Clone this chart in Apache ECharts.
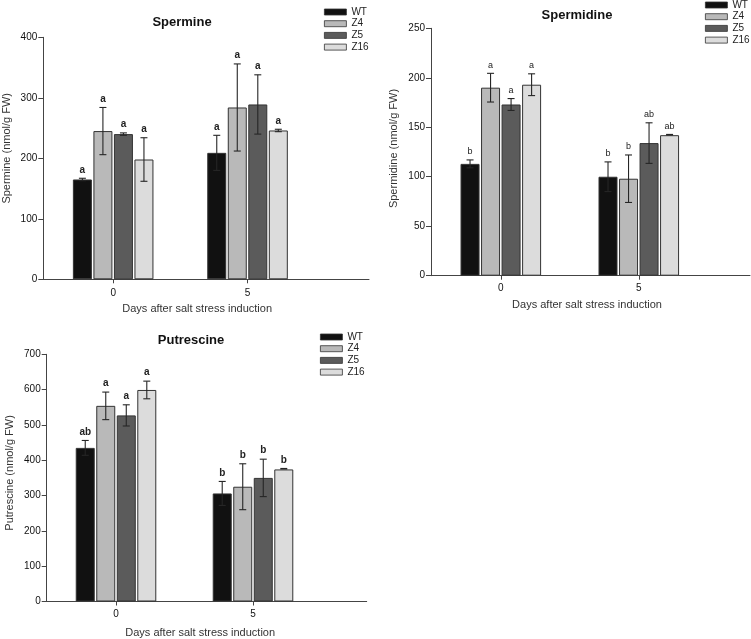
<!DOCTYPE html>
<html><head><meta charset="utf-8">
<script src="https://cdn.jsdelivr.net/npm/echarts@6/dist/echarts.min.js"></script>
<style>html,body{margin:0;padding:0;background:#fff}#c{width:751px;height:639px}</style>
</head><body><div id="c"></div>
<script>
// ---------- data ----------
const days = [0, 5];
const genotypes = ['WT', 'Z4', 'Z5', 'Z16'];

// rows: WT, Z4, Z5, Z16 ; columns: day 0, day 5
const spermineMean = [[165, 209], [245, 284], [240, 289], [198, 246]];
const spermineErr = [[2, 29], [39, 72], [2, 49], [36, 2]];
const spermineLetters = [['a', 'a'], ['a', 'a'], ['a', 'a'], ['a', 'a']];

const spermidineMean = [[113, 100], [190, 98], [173, 134], [193, 142]];
const spermidineErr = [[4, 15], [14.5, 24], [6, 20.5], [11, 0.5]];
const spermidineLetters = [['b', 'b'], ['a', 'b'], ['a', 'ab'], ['a', 'ab']];

const putrescineMean = [[435, 306], [554, 325], [527, 350], [599, 374]];
const putrescineErr = [[21, 34], [39, 65], [30, 53], [25, 2]];
const putrescineLetters = [['ab', 'b'], ['a', 'b'], ['a', 'b'], ['a', 'b']];

const xTickValues = [0, 5];
const xAxisTitle = 'Days after salt stress induction';

// ---------- styling / layout ----------
const FONT = '"Liberation Sans", Arial, Helvetica, sans-serif';
const colors = ['#111111', '#b9b9b9', '#5b5b5b', '#dcdcdc'];
const BAR_W = 19, BAR_GAP_PCT = 8;
const BAR_PITCH = BAR_W * (1 + BAR_GAP_PCT / 100);

const panels = [
  { title: 'Spermine', yName: 'Spermine (nmol/g FW)', mean: spermineMean, err: spermineErr, letters: spermineLetters,
    grid: { left: 43.3, top: 37.3, width: 325.7, height: 242 }, xMin: -2.6, xMax: 9.52, yMax: 400, yInt: 100,
    titlePos: { x: 182, y: 16 }, legendPos: { left: 324, top: 6.5 }, letterBold: true, letterSize: 10,
    xLabelMargin: 9, xNameGap: 24.5, xNameShift: 18, yNameGap: 31, yNameShift: 20 },
  { title: 'Spermidine', yName: 'Spermidine (nmol/g FW)', mean: spermidineMean, err: spermidineErr, letters: spermidineLetters,
    grid: { left: 431, top: 28.3, width: 319, height: 247.4 }, xMin: -2.53, xMax: 9.03, yMax: 250, yInt: 50,
    titlePos: { x: 577, y: 9 }, legendPos: { left: 705, top: -0.5 }, letterBold: false, letterSize: 9,
    xLabelMargin: 8, xNameGap: 23.5, xNameShift: 7, yNameGap: 32, yNameShift: 7 },
  { title: 'Putrescine', yName: 'Putrescine (nmol/g FW)', mean: putrescineMean, err: putrescineErr, letters: putrescineLetters,
    grid: { left: 46.7, top: 354.3, width: 320, height: 247.7 }, xMin: -2.53, xMax: 9.15, yMax: 700, yInt: 100,
    titlePos: { x: 191, y: 334 }, legendPos: { left: 320, top: 331.5 }, letterBold: true, letterSize: 10,
    xLabelMargin: 8, xNameGap: 25.5, xNameShift: 13, yNameGap: 31.5, yNameShift: 10 }
];

const grid = [], xAxis = [], yAxis = [], series = [], title = [], legend = [];

function errRenderer(p, gi) {
  return function (params, api) {
    const x = api.value(0), m = api.value(1), e = api.value(2);
    const off = (gi - 1.5) * BAR_PITCH;
    const top = api.coord([x, m + e]);
    const bot = api.coord([x, m - e]);
    const cx = top[0] + off;
    const children = [];
    const ls = { stroke: '#262626', lineWidth: 1.1 };
    if (Math.abs(bot[1] - top[1]) > 1.5) {
      children.push({ type: 'line', shape: { x1: cx, y1: top[1], x2: cx, y2: bot[1] }, style: ls });
      children.push({ type: 'line', shape: { x1: cx - 3.5, y1: top[1], x2: cx + 3.5, y2: top[1] }, style: ls });
      children.push({ type: 'line', shape: { x1: cx - 3.5, y1: bot[1], x2: cx + 3.5, y2: bot[1] }, style: ls });
    } else {
      children.push({ type: 'line', shape: { x1: cx - 3.5, y1: top[1], x2: cx + 3.5, y2: top[1] }, style: { stroke: '#262626', lineWidth: 1.6 } });
    }
    children.push({
      type: 'text',
      style: {
        text: p.letters[gi][params.dataIndex], x: cx, y: top[1] - 3.5,
        align: 'center', verticalAlign: 'bottom',
        font: (p.letterBold ? 'bold ' : '') + p.letterSize + 'px ' + FONT, fill: '#222'
      }
    });
    return { type: 'group', children: children };
  };
}

panels.forEach(function (p, i) {
  grid.push(Object.assign({ containLabel: false }, p.grid));
  xAxis.push({
    type: 'value', gridIndex: i, min: p.xMin, max: p.xMax,
    name: xAxisTitle, nameLocation: 'middle', nameGap: p.xNameGap, nameMoveOverlap: false,
    nameTextStyle: { fontFamily: FONT, fontSize: 11, color: '#333', padding: [0, p.xNameShift, 0, 0] },
    axisLine: { onZero: false, lineStyle: { color: '#444', width: 1 } },
    axisTick: { show: true, length: 4, customValues: xTickValues, lineStyle: { color: '#444' } },
    axisLabel: { customValues: xTickValues, margin: p.xLabelMargin, fontFamily: FONT, fontSize: 10, color: '#111' },
    splitLine: { show: false }
  });
  yAxis.push({
    type: 'value', gridIndex: i, min: 0, max: p.yMax, interval: p.yInt,
    name: p.yName, nameLocation: 'middle', nameGap: p.yNameGap, nameRotate: 90, nameMoveOverlap: false,
    nameTextStyle: { fontFamily: FONT, fontSize: 11, color: '#333', padding: [0, 0, 0, p.yNameShift] },
    axisLine: { show: true, onZero: false, lineStyle: { color: '#444', width: 1 } },
    axisTick: { show: true, length: 5, lineStyle: { color: '#444' } },
    axisLabel: { margin: 6, fontFamily: FONT, fontSize: 10, color: '#111' },
    splitLine: { show: false }
  });
  genotypes.forEach(function (g, gi) {
    series.push({
      name: g, type: 'bar', xAxisIndex: i, yAxisIndex: i,
      barWidth: BAR_W, barGap: BAR_GAP_PCT + '%',
      itemStyle: { color: colors[gi], borderColor: '#333', borderWidth: 1 },
      data: days.map(function (d, di) { return [d, p.mean[gi][di]]; }),
      z: 2
    });
  });
  genotypes.forEach(function (g, gi) {
    series.push({
      name: g + ' error', type: 'custom', xAxisIndex: i, yAxisIndex: i,
      renderItem: errRenderer(p, gi), clip: false, z: 3,
      data: days.map(function (d, di) { return [d, p.mean[gi][di], p.err[gi][di]]; }),
      tooltip: { show: false }
    });
  });
  title.push({
    text: p.title, left: p.titlePos.x, top: p.titlePos.y, textAlign: 'center', padding: 0,
    textStyle: { fontFamily: FONT, fontSize: 13, fontWeight: 'bold', color: '#111' }
  });
  legend.push({
    data: genotypes, orient: 'vertical', left: p.legendPos.left, top: p.legendPos.top, padding: 0,
    itemWidth: 22, itemHeight: 6, itemGap: 0.7, icon: 'rect',
    itemStyle: { borderWidth: 0.8, borderColor: '#333' },
    textStyle: { fontFamily: FONT, fontSize: 10, color: '#222', lineHeight: 11 }
  });
});

const chart = echarts.init(document.getElementById('c'), null, { renderer: 'canvas' });
chart.setOption({
  animation: false, backgroundColor: '#ffffff',
  title: title, legend: legend, grid: grid, xAxis: xAxis, yAxis: yAxis, series: series
});
</script>
</body></html>
